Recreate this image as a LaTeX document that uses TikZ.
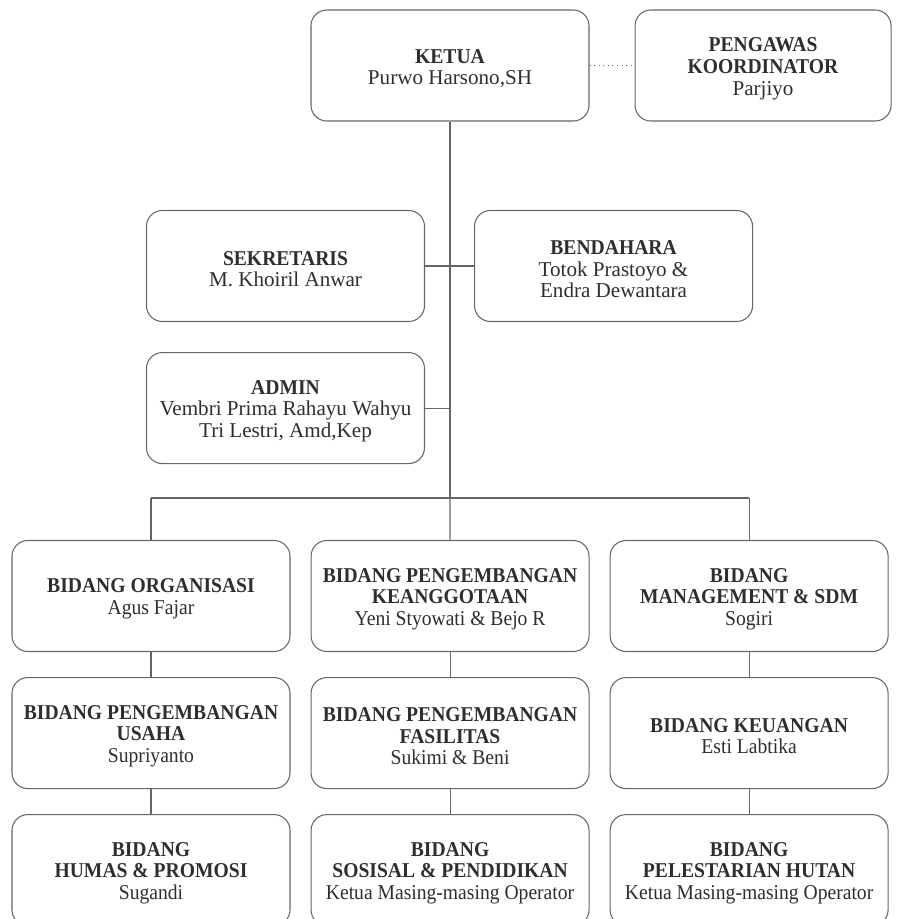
\documentclass[tikz,border=0pt]{standalone}
\usepackage{fontspec}
\setmainfont{Liberation Serif}[BoldFeatures={FakeStretch=0.93}]
\newfontfamily\narrowfont{Liberation Serif}[FakeStretch=0.93]
\newcommand{\judul}[1]{\rule{0pt}{11.5pt}\textbf{#1}}
\usetikzlibrary{positioning}

\begin{document}
\begin{tikzpicture}[font=\fontsize{12}{12.4}\selectfont, text=black!82, node distance=5mm and 4mm, box/.style={draw=black!60, line width=0.6pt, rounded corners=9pt, align=center, minimum height=22.2mm, minimum width=55.6mm, inner sep=2pt}, bidang/.style={box, font=\narrowfont\fontsize{12}{12.4}\selectfont}, conn/.style={draw=black!60, line width=0.6pt}]
\useasboundingbox (0,0) rectangle (18.02,-18.38);
\node[box] (ketua) at (9,-1.31) {\judul{KETUA}\\Purwo Harsono,SH};
\node[box, minimum width=51.2mm, right=9mm of ketua] (pengawas) {\judul{PENGAWAS}\\\textbf{KOORDINATOR}\\Parjiyo};
\node[box] (sekretaris) at (5.71,-5.32) {\judul{SEKRETARIS}\\M. Khoiril Anwar};
\node[box, right=9.8mm of sekretaris] (bendahara) {\judul{BENDAHARA}\\Totok Prastoyo \&\\Endra Dewantara};
\node[box, below=6mm of sekretaris] (admin) {\judul{ADMIN}\\Vembri Prima Rahayu Wahyu\\Tri Lestri, Amd,Kep};
\coordinate (bus) at (9,-9.96);
\node[bidang] (organisasi) at (3.02,-11.92) {\judul{BIDANG ORGANISASI}\\Agus Fajar};
\node[bidang, right=of organisasi] (keanggotaan) {\judul{BIDANG PENGEMBANGAN}\\\textbf{KEANGGOTAAN}\\Yeni Styowati \& Bejo R};
\node[bidang, right=of keanggotaan] (sdm) {\judul{BIDANG}\\\textbf{MANAGEMENT \& SDM}\\Sogiri};
\node[bidang, below=of organisasi] (usaha) {\judul{BIDANG PENGEMBANGAN}\\\textbf{USAHA}\\Supriyanto};
\node[bidang, below=of keanggotaan] (fasilitas) {\judul{BIDANG PENGEMBANGAN}\\\textbf{FASILITAS}\\Sukimi \& Beni};
\node[bidang, below=of sdm] (keuangan) {\judul{BIDANG KEUANGAN}\\Esti Labtika};
\node[bidang, below=of usaha] (humas) {\judul{BIDANG}\\\textbf{HUMAS \& PROMOSI}\\Sugandi};
\node[bidang, below=of fasilitas] (sosial) {\judul{BIDANG}\\\textbf{SOSISAL \& PENDIDIKAN}\\Ketua Masing-masing Operator};
\node[bidang, below=of keuangan] (hutan) {\judul{BIDANG}\\\textbf{PELESTARIAN HUTAN}\\Ketua Masing-masing Operator};
% garis
\draw[conn, dotted] (ketua) -- (pengawas);
\draw[conn] (ketua) -- (bus);
\draw[conn] (sekretaris) -- (bendahara);
\draw[conn] (admin.east) -- (admin.east -| ketua);
\draw[conn] (organisasi.north |- bus) -- (sdm.north |- bus);
\draw[conn] (organisasi) -- (organisasi.north |- bus); \draw[conn] (keanggotaan) -- (bus); \draw[conn] (sdm) -- (sdm.north |- bus);
\draw[conn] (organisasi) -- (usaha); \draw[conn] (usaha) -- (humas);
\draw[conn] (keanggotaan) -- (fasilitas); \draw[conn] (fasilitas) -- (sosial);
\draw[conn] (sdm) -- (keuangan); \draw[conn] (keuangan) -- (hutan);
\end{tikzpicture}
\end{document}
